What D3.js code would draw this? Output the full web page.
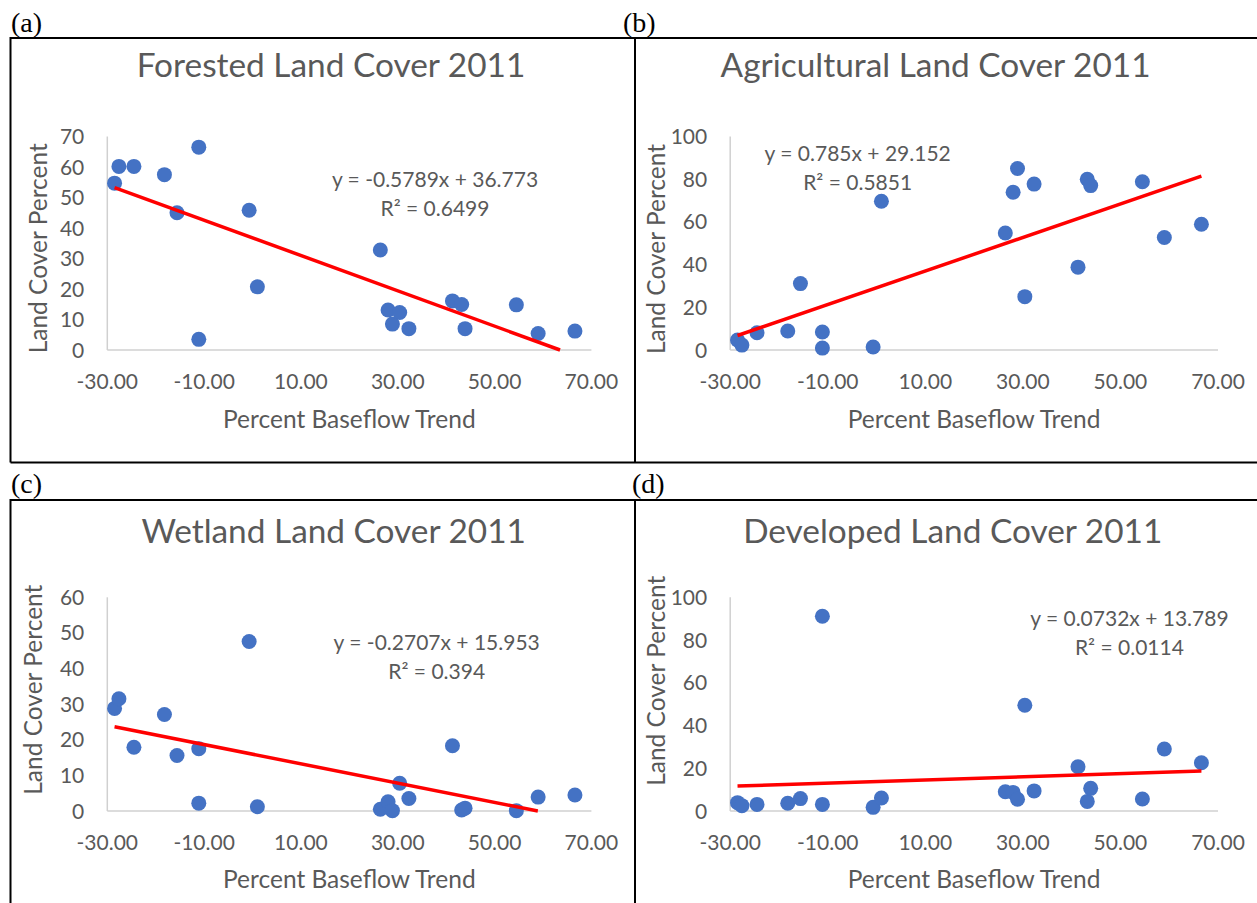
<!DOCTYPE html>
<html>
<head>
<meta charset="utf-8">
<script src="https://cdnjs.cloudflare.com/ajax/libs/d3/7.8.5/d3.min.js"></script>
<style>
  body { margin: 0; background: #fff; }
  text { font-family: Lato, "Open Sans", sans-serif; }
</style>
</head>
<body>
<div id="chart"></div>
<script>
var width = 1257,
    height = 903;

// percent baseflow trend of the 20 stations (same x for all four panels)
var baseflowTrend = [-28.5, -27.6, -24.5, -18.2, -15.6, -11.1, -11.1, -0.7, 1.0, 26.4,
                     28.0, 28.9, 30.4, 32.3, 41.3, 43.2, 43.9, 54.5, 59.0, 66.6];

// land cover percent, 2011
var forested     = [54.7, 60.2, 60.2, 57.5, 45.0, 66.5, 3.5, 45.8, 20.7, 32.8,
                    13.1, 8.5, 12.3, 7.0, 16.1, 14.9, 7.0, 14.8, 5.4, 6.2];
var agricultural = [4.7, 2.3, 8.1, 8.9, 31.1, 8.4, 0.9, 1.4, 69.7, 54.8,
                    73.9, 85.0, 25.0, 77.7, 38.8, 80.0, 77.0, 78.8, 52.7, 58.9];
var wetland      = [28.8, 31.5, 17.9, 27.1, 15.6, 17.5, 2.2, 47.6, 1.2, 0.5,
                    2.6, 0.1, 7.8, 3.5, 18.3, 0.3, 0.8, 0.1, 3.9, 4.5];
var developed    = [3.9, 2.5, 3.1, 3.6, 5.8, 3.1, 91.1, 1.7, 6.1, 9.0,
                    8.7, 5.5, 49.5, 9.4, 20.7, 4.5, 10.6, 5.6, 29.0, 22.6];

var titles = ["Forested Land Cover 2011", "Agricultural Land Cover 2011",
              "Wetland Land Cover 2011", "Developed Land Cover 2011"];
var panelLabels = ["(a)", "(b)", "(c)", "(d)"];

// linear trendlines as printed on the charts
var slopes     = [-0.5789, 0.785, -0.2707, 0.0732];
var intercepts = [36.773, 29.152, 15.953, 13.789];
var eqTexts = ["y = -0.5789x + 36.773", "y = 0.785x + 29.152",
               "y = -0.2707x + 15.953", "y = 0.0732x + 13.789"];
var r2Texts = ["R\u00B2 = 0.6499", "R\u00B2 = 0.5851", "R\u00B2 = 0.394", "R\u00B2 = 0.0114"];

// axes
var xTicks = [-30, -10, 10, 30, 50, 70];
var yMax = [70, 100, 60, 100];
var yStep = [10, 20, 10, 20];

var xTitle = "Percent Baseflow Trend",
    yTitle = "Land Cover Percent";

var series = [forested, agricultural, wetland, developed];

// layout of every panel (pixels)
var layout = [
    {x0: 107.3, x1: 591.4, y0: 350, y1: 136.5, titleX: 331, titleY: 77.3, eqX: 435, eqY: 186.5,
     yTitleX: 47, yTitleY: 248.3, tickY: 389, xTitleY: 427.7, labX: 11, labY: 31.5},
    {x0: 730.2, x1: 1218, y0: 350, y1: 136.5, titleX: 935.6, titleY: 77.3, eqX: 857.7, eqY: 160.5,
     yTitleX: 665, yTitleY: 249, tickY: 389, xTitleY: 427.7, labX: 623, labY: 31.5},
    {x0: 107.3, x1: 591.4, y0: 811, y1: 597.3, titleX: 333.7, titleY: 543.3, eqX: 436.7, eqY: 650,
     yTitleX: 42, yTitleY: 689.7, tickY: 850, xTitleY: 888.3, labX: 11, labY: 493},
    {x0: 730.2, x1: 1218, y0: 811, y1: 597.3, titleX: 952.7, titleY: 543.3, eqX: 1129.4, eqY: 626,
     yTitleX: 665, yTitleY: 680.8, tickY: 850, xTitleY: 888.3, labX: 632, labY: 493}
];

var grey = "#595959";

var svg = d3.select('#chart').append('svg')
    .attr('width', width)
    .attr('height', height);

svg.append("rect")
    .attr("width", width)
    .attr("height", height)
    .attr("fill", "#fff");

// frame lines round the panels
var frame = svg.append('g')
    .attr("stroke", "#000")
    .attr("stroke-width", 2)
    .attr("fill", "none");
frame.append("path").attr("d", "M10.5,462.5 V38 H1257 M10.5,462.5 H1257 M635,38 V462.5");
frame.append("path").attr("d", "M10.5,903 V500 H1257 M635,500 V903");

/**
 * Draw one scatter panel
 * @param {Number} k panel index
 */
function drawPanel(k) {
    let L = layout[k];
    let g = svg.append('g');

    let scaleX = d3.scaleLinear().domain([-30, 70]).range([L.x0, L.x1]);
    let scaleY = d3.scaleLinear().domain([0, yMax[k]]).range([L.y0, L.y1]);

    // panel label like (a)
    g.append("text")
        .attr("x", L.labX)
        .attr("y", L.labY)
        .style("font-family", "'Liberation Serif', 'DejaVu Serif', serif")
        .attr("font-size", 28)
        .attr("fill", "#000")
        .text(panelLabels[k]);

    // chart title
    g.append("text")
        .attr("x", L.titleX)
        .attr("y", L.titleY)
        .attr("text-anchor", "middle")
        .attr("font-size", 33.4)
        .attr("fill", grey)
        .text(titles[k]);

    // axis lines
    g.append("line")
        .attr("x1", scaleX(-30)).attr("x2", scaleX(70))
        .attr("y1", scaleY(0)).attr("y2", scaleY(0))
        .attr("stroke", "#d0d0d0").attr("stroke-width", 1.5);
    g.append("line")
        .attr("x1", scaleX(-30)).attr("x2", scaleX(-30))
        .attr("y1", scaleY(0)).attr("y2", scaleY(yMax[k]))
        .attr("stroke", "#d0d0d0").attr("stroke-width", 1.5);

    // y tick labels
    let yTicks = d3.range(0, yMax[k] + 1, yStep[k]);
    g.selectAll(".ytick").data(yTicks).enter()
        .append("text")
        .attr("class", "ytick")
        .attr("x", scaleX(-30) - 23)
        .attr("y", d => scaleY(d))
        .attr("dy", "0.36em")
        .attr("text-anchor", "end")
        .attr("font-size", 21)
        .attr("fill", grey)
        .text(d => d);

    // x tick labels
    g.selectAll(".xtick").data(xTicks).enter()
        .append("text")
        .attr("class", "xtick")
        .attr("x", d => scaleX(d))
        .attr("y", L.tickY)
        .attr("text-anchor", "middle")
        .attr("font-size", 21)
        .attr("fill", grey)
        .text(d => d.toFixed(2));

    // axis titles
    g.append("text")
        .attr("x", (L.x0 + L.x1) / 2)
        .attr("y", L.xTitleY)
        .attr("text-anchor", "middle")
        .attr("font-size", 24.5)
        .attr("fill", grey)
        .text(xTitle);
    g.append("text")
        .attr("transform", "translate(" + L.yTitleX + "," + L.yTitleY + ") rotate(-90)")
        .attr("text-anchor", "middle")
        .attr("font-size", 24.5)
        .attr("fill", grey)
        .text(yTitle);

    // points
    let pts = baseflowTrend.map((x, i) => ({x: x, y: series[k][i]}));
    g.selectAll(".pt").data(pts).enter()
        .append("circle")
        .attr("class", "pt")
        .attr("cx", d => scaleX(d.x))
        .attr("cy", d => scaleY(d.y))
        .attr("r", 7.5)
        .attr("fill", "#4472C4");

    // trendline over the data range, cut at y = 0
    let xa = d3.min(baseflowTrend), xb = d3.max(baseflowTrend);
    let f = x => slopes[k] * x + intercepts[k];
    if (f(xb) < 0) xb = -intercepts[k] / slopes[k];
    if (f(xa) < 0) xa = -intercepts[k] / slopes[k];
    g.append("line")
        .attr("x1", scaleX(xa)).attr("y1", scaleY(f(xa)))
        .attr("x2", scaleX(xb)).attr("y2", scaleY(f(xb)))
        .attr("stroke", "#FF0000")
        .attr("stroke-width", 3.5);

    // equation and R squared
    g.append("text")
        .attr("x", L.eqX)
        .attr("y", L.eqY)
        .attr("text-anchor", "middle")
        .attr("font-size", 21)
        .attr("fill", grey)
        .text(eqTexts[k]);
    g.append("text")
        .attr("x", L.eqX)
        .attr("y", L.eqY + 29)
        .attr("text-anchor", "middle")
        .attr("font-size", 21)
        .attr("fill", grey)
        .text(r2Texts[k]);
}

for (let k = 0; k < 4; k++) drawPanel(k);
</script>
</body>
</html>
